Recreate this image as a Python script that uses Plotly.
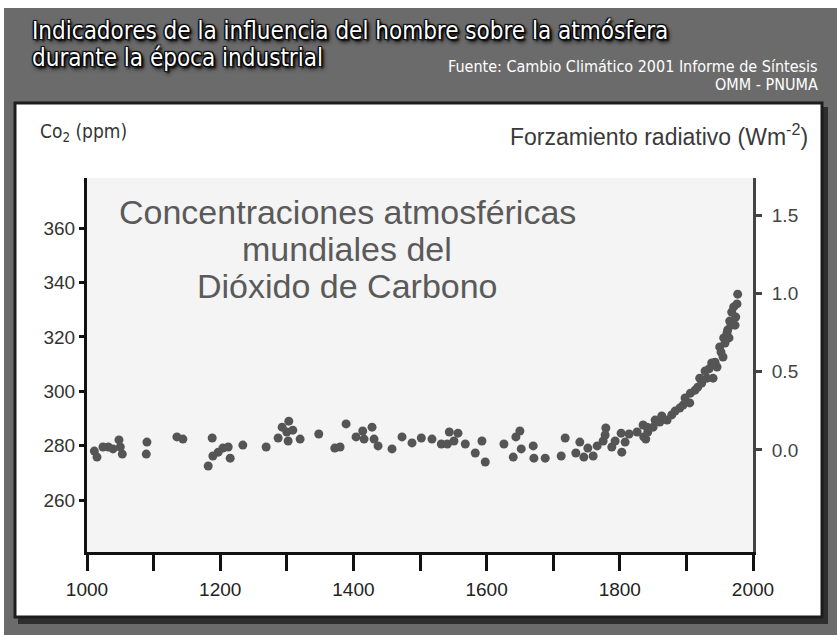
import plotly.graph_objects as go

# ---------------- data ----------------
years = [1011, 1015, 1024, 1032, 1039, 1048, 1050, 1053, 1090, 1089,
         1135, 1144, 1188, 1182, 1189, 1197, 1204, 1212, 1215, 1234,
         1269, 1287, 1293, 1303, 1300, 1309, 1302, 1320, 1348, 1372,
         1380, 1389, 1404, 1414, 1416, 1428, 1431, 1437, 1458, 1473,
         1488, 1502, 1518, 1532, 1541, 1544, 1551, 1557, 1568, 1583,
         1593, 1598, 1626, 1640, 1644, 1650, 1652, 1670, 1671, 1688,
         1712, 1718, 1734, 1740, 1746, 1752, 1760, 1766, 1775, 1779,
         1778, 1788, 1793, 1802, 1803, 1808, 1814, 1826, 1835, 1836,
         1839, 1841, 1842, 1850, 1853, 1860, 1863, 1871, 1878, 1883,
         1890, 1895, 1898, 1905, 1906, 1913, 1917, 1923, 1920, 1931,
         1940, 1928, 1934, 1946, 1938, 1943, 1955, 1952, 1950, 1958,
         1956, 1964, 1961, 1962, 1973, 1967, 1965, 1974, 1968, 1971,
         1976, 1977]
co2 = [278.0, 275.8, 279.5, 279.5, 278.8, 282.1, 279.5, 276.9, 281.3, 276.9,
       283.2, 282.4, 282.8, 272.5, 276.2, 277.6, 279.1, 279.5, 275.4, 280.2,
       279.5, 282.8, 286.8, 289.0, 285.0, 285.7, 281.7, 282.4, 284.3, 279.1,
       279.5, 288.0, 283.2, 285.4, 282.4, 286.8, 282.4, 279.9, 278.8, 283.2,
       281.0, 282.8, 282.4, 280.6, 280.6, 285.0, 281.7, 284.6, 280.6, 277.3,
       281.7, 274.0, 280.6, 275.8, 283.2, 285.4, 278.8, 279.9, 275.4, 275.4,
       276.2, 282.8, 277.3, 281.3, 275.8, 279.1, 276.2, 279.9, 281.7, 286.5,
       283.9, 279.5, 281.7, 284.6, 277.6, 281.3, 284.3, 285.0, 287.6, 283.2,
       282.4, 286.8, 285.0, 286.8, 289.4, 288.7, 290.9, 289.4, 291.3, 292.7,
       293.8, 294.9, 297.5, 295.7, 299.3, 300.4, 301.5, 303.0, 304.8, 304.8,
       304.8, 307.4, 308.2, 308.9, 310.4, 310.7, 312.6, 314.4, 316.3, 317.7,
       319.6, 319.6, 321.4, 322.5, 324.3, 324.3, 325.8, 327.3, 329.1, 331.0,
       332.1, 335.7]

x_ticks = [1000, 1200, 1400, 1600, 1800, 2000]
x_minor_step = 100
y_ticks = [260, 280, 300, 320, 340, 360]
y2_ticks = [0.0, 0.5, 1.0, 1.5]
y2_ticktext = ["0.0", "0.5", "1.0", "1.5"]

title_lines = ["Indicadores de la influencia del hombre sobre la atmósfera",
               "durante la época industrial"]
source_lines = ["Fuente: Cambio Climático 2001 Informe de Síntesis", "OMM - PNUMA"]
inner_lines = ["Concentraciones atmosféricas", "mundiales del", "Dióxido de Carbono"]
left_title = "Co<sub>2</sub> (ppm)"
right_title = "Forzamiento radiativo (Wm<sup>-2</sup>)"

# ---------------- layout geometry ----------------
W, H = 837, 635
L, R, T, B = 87, 753, 178, 552


def xp(px):
    return (px - L) / (R - L)


def yp(py):
    return (B - py) / (B - T)


NARROW = "Liberation Sans Narrow, DejaVu Sans Condensed, Arial Narrow, sans-serif"
SANS = "Liberation Sans, Arial, sans-serif"

fig = go.Figure()
fig.add_trace(go.Scatter(
    x=years, y=co2, mode="markers",
    marker=dict(size=9, color="#555555", line=dict(width=0)),
    hoverinfo="x+y", showlegend=False, cliponaxis=False,
))
fig.add_trace(go.Scatter(x=[], y=[], yaxis="y2", showlegend=False))

shapes = [
    dict(type="rect", xref="paper", yref="paper", x0=xp(0), x1=xp(W), y0=yp(0), y1=yp(8),
         fillcolor="white", line=dict(width=0), layer="below"),
    dict(type="rect", xref="paper", yref="paper", x0=xp(0), x1=xp(4), y0=yp(0), y1=yp(H),
         fillcolor="white", line=dict(width=0), layer="below"),
    dict(type="rect", xref="paper", yref="paper", x0=xp(18), x1=xp(828), y0=yp(107), y1=yp(624),
         fillcolor="#2e2e2e", line=dict(width=0), layer="below"),
    dict(type="rect", xref="paper", yref="paper", x0=xp(15), x1=xp(822), y0=yp(103), y1=yp(617),
         fillcolor="white", line=dict(color="#1c1c1c", width=3), layer="below"),
    dict(type="rect", xref="paper", yref="paper", x0=0, x1=1, y0=0, y1=1,
         fillcolor="#f4f4f4", line=dict(width=0), layer="below"),
]

shadow = "2px 2px 2px #000, -1px -1px 1px #000, 1px -1px 1px #000, -1px 1px 1px #000, 2px 3px 4px #000"
annotations = [
    dict(text=title_lines[0], x=xp(30), y=yp(31), xanchor="left", yanchor="middle",
         font=dict(family=NARROW, size=24, color="white", shadow=shadow)),
    dict(text=title_lines[1], x=xp(30), y=yp(58), xanchor="left", yanchor="middle",
         font=dict(family=NARROW, size=24, color="white", shadow=shadow)),
    dict(text=source_lines[0], x=xp(820), y=yp(67), xanchor="right", yanchor="middle",
         font=dict(family=NARROW, size=16, color="white")),
    dict(text=source_lines[1], x=xp(820), y=yp(85), xanchor="right", yanchor="middle",
         font=dict(family=NARROW, size=16, color="white")),
    dict(text=left_title, x=xp(38), y=yp(132), xanchor="left", yanchor="middle",
         font=dict(family=NARROW, size=19, color="#333333")),
    dict(text=right_title, x=xp(810), y=yp(135), xanchor="right", yanchor="middle",
         font=dict(family=SANS, size=23, color="#3a3a3a")),
    dict(text=inner_lines[0], x=xp(347), y=yp(212), xanchor="center", yanchor="middle",
         font=dict(family=SANS, size=34, color="#5a5a5a")),
    dict(text=inner_lines[1], x=xp(347), y=yp(249), xanchor="center", yanchor="middle",
         font=dict(family=SANS, size=34, color="#5a5a5a")),
    dict(text=inner_lines[2], x=xp(347), y=yp(286), xanchor="center", yanchor="middle",
         font=dict(family=SANS, size=34, color="#5a5a5a")),
]
for a in annotations:
    a.update(xref="paper", yref="paper", showarrow=False)

fig.update_layout(
    width=W, height=H,
    margin=dict(l=L, r=W - R, t=T, b=H - B, pad=0),
    paper_bgcolor="#6b6b6b",
    plot_bgcolor="rgba(0,0,0,0)",
    shapes=shapes,
    annotations=annotations,
    xaxis=dict(range=[1000, 2000], tickvals=x_ticks,
               showgrid=False, zeroline=False, showline=True, linecolor="#111111", linewidth=3,
               ticks="outside", ticklen=16, tickwidth=3, tickcolor="#111111",
               minor=dict(ticks="outside", tick0=1000, dtick=x_minor_step, ticklen=16,
                          tickwidth=3, tickcolor="#111111", showgrid=False),
               tickfont=dict(family=SANS, size=19, color="#222222"), ticklabelstandoff=2),
    yaxis=dict(range=[240.9, 378.4], tickvals=y_ticks,
               showgrid=False, zeroline=False, showline=True, linecolor="#111111", linewidth=3,
               ticks="outside", ticklen=5, tickwidth=3, tickcolor="#111111",
               tickfont=dict(family=SANS, size=19, color="#333333")),
    yaxis2=dict(range=[-0.653, 1.740], tickvals=y2_ticks, ticktext=y2_ticktext,
                overlaying="y", side="right", anchor="x",
                showgrid=False, zeroline=False, showline=True, linecolor="#444444", linewidth=3,
                ticks="outside", ticklen=6, tickwidth=3, tickcolor="#444444",
                tickfont=dict(family=SANS, size=19, color="#444444"), ticklabelstandoff=6),
)

fig.write_html("out.html", config={"displayModeBar": False},
               post_script="document.body.style.margin='0';document.body.style.overflow='hidden';")
